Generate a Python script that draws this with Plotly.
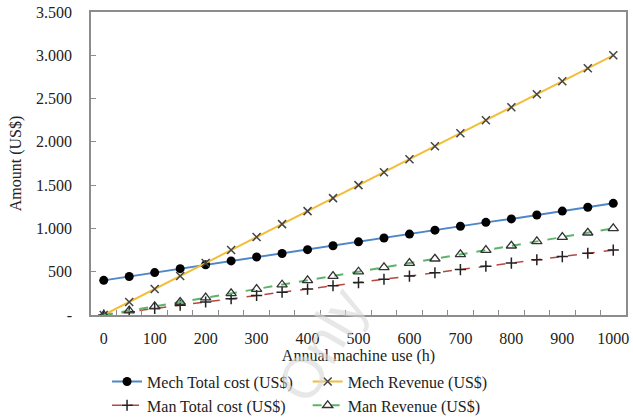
import plotly.graph_objects as go

hours = [0, 50, 100, 150, 200, 250, 300, 350, 400, 450, 500, 550, 600, 650, 700, 750, 800, 850, 900, 950, 1000]
mech_total_cost = [400, 445, 490, 535, 580, 625, 670, 710, 755, 800, 845, 890, 935, 980, 1025, 1070, 1110, 1155, 1200, 1245, 1290]
mech_revenue = [0, 150, 300, 450, 600, 750, 900, 1050, 1200, 1350, 1500, 1650, 1800, 1950, 2100, 2250, 2400, 2550, 2700, 2850, 3000]
man_total_cost = [0, 38, 75, 113, 150, 188, 225, 263, 300, 338, 375, 413, 450, 488, 525, 563, 600, 638, 675, 713, 750]
man_revenue = [0, 50, 100, 150, 200, 250, 300, 350, 400, 450, 500, 550, 600, 650, 700, 750, 800, 850, 900, 950, 1000]

x_tick_vals = [0, 100, 200, 300, 400, 500, 600, 700, 800, 900, 1000]
y_tick_vals = [0, 500, 1000, 1500, 2000, 2500, 3000, 3500]
y_tick_text = ["-", "500", "1.000", "1.500", "2.000", "2.500", "3.000", "3.500"]

FONT = "Liberation Serif"
FS = 16

fig = go.Figure()
fig.add_trace(go.Scatter(
    x=hours, y=mech_total_cost, name="Mech Total cost (US$)", mode="lines+markers",
    line=dict(color="#4F86C6", width=2),
    marker=dict(symbol="circle", size=9, color="black"), legend="legend"))
fig.add_trace(go.Scatter(
    x=hours, y=man_total_cost, name="Man Total cost (US$)", mode="lines+markers",
    line=dict(color="#B5473F", width=1.5, dash="dash"),
    marker=dict(symbol="cross-thin", size=8, color="black", line=dict(color="#222222", width=1.5)),
    legend="legend"))
fig.add_trace(go.Scatter(
    x=hours, y=mech_revenue, name="Mech Revenue (US$)", mode="lines+markers",
    line=dict(color="#F2BE3A", width=2),
    marker=dict(symbol="x-thin", size=8, color="#444444", line=dict(color="#444444", width=1.5)),
    legend="legend2"))
fig.add_trace(go.Scatter(
    x=hours, y=man_revenue, name="Man Revenue (US$)", mode="lines+markers",
    line=dict(color="#5DB36A", width=2, dash="dash"),
    marker=dict(symbol="triangle-up-open", size=9, color="#333333", line=dict(width=1.3)),
    legend="legend2"))

axis_line = "#8c8c8c"
legend_common = dict(yref="container", y=0.132, xanchor="left", yanchor="top",
                     font=dict(family=FONT, size=FS), tracegroupgap=0,
                     bgcolor="rgba(0,0,0,0)", itemwidth=30)
fig.update_layout(
    width=633, height=420,
    margin=dict(l=91, r=7, t=12, b=105),
    plot_bgcolor="white", paper_bgcolor="white",
    font=dict(family=FONT, size=FS, color="#222222"),
    showlegend=True,
    xaxis=dict(
        range=[-25, 1025], tickmode="array", tickvals=x_tick_vals,
        ticks="", showgrid=False, zeroline=False, automargin=False,
        showline=True, linecolor=axis_line, linewidth=1.5, mirror=True,
        tickfont=dict(family=FONT, size=FS), ticklabelstandoff=8,
        minor=dict(tickmode="array", tickvals=[25 + 50 * i for i in range(20)],
                   ticks="inside", ticklen=5, tickcolor=axis_line, showgrid=False),
        title=dict(text="Annual machine use (h)", font=dict(family=FONT, size=FS), standoff=6),
    ),
    yaxis=dict(
        range=[0, 3500], tickmode="array", tickvals=y_tick_vals, ticktext=y_tick_text,
        ticks="inside", ticklen=5, tickcolor=axis_line,
        showgrid=False, zeroline=False, automargin=False,
        showline=True, linecolor=axis_line, linewidth=1.5, mirror=True,
        tickfont=dict(family=FONT, size=FS), ticklabelstandoff=14,
        title=dict(text="Amount (US$)", font=dict(family=FONT, size=FS), standoff=10),
    ),
    legend=dict(x=0.03, **legend_common),
    legend2=dict(x=0.405, **legend_common),
)
fig.add_annotation(text="Only", xref="paper", yref="paper", x=0.43, y=-0.1,
                   xanchor="center", yanchor="middle",
                   showarrow=False, textangle=-60,
                   font=dict(family="Liberation Sans", size=58, color="rgba(215,215,215,0.6)"))
fig.write_html("out.html", config={"displayModeBar": False},
               post_script="document.body.style.margin='0';")
